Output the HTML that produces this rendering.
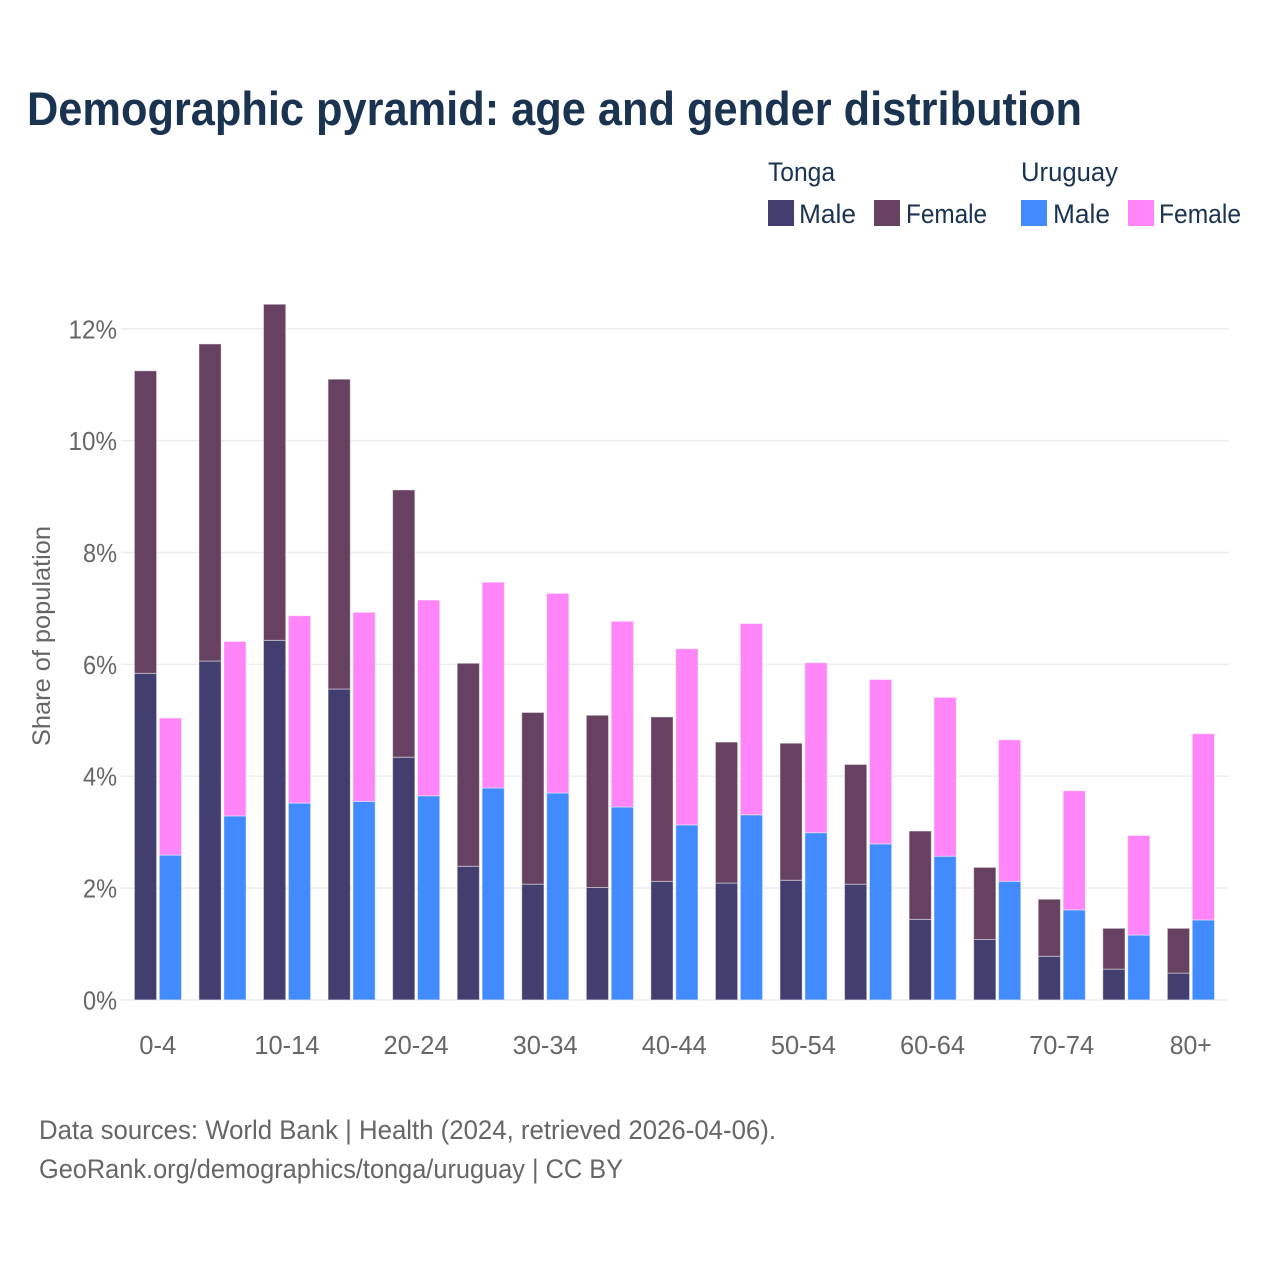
<!DOCTYPE html>
<html lang="en">
<head>
<meta charset="utf-8">
<title>Demographic pyramid: age and gender distribution</title>
<style>
html,body{margin:0;padding:0;background:#fff;width:1280px;height:1280px;overflow:hidden}
svg{display:block;font-family:"Liberation Sans",sans-serif}
</style>
</head>
<body>
<svg id="chart" xmlns="http://www.w3.org/2000/svg" width="1280" height="1280" viewBox="0 0 1280 1280">
  <rect width="1280" height="1280" fill="#fff"/>
  <text x="27" y="125" font-size="47" font-weight="700" fill="#1a3350" textLength="1055" lengthAdjust="spacingAndGlyphs">Demographic pyramid: age and gender distribution</text>

  <g font-size="27" fill="#1a3350">
    <text x="768" y="181" textLength="67" lengthAdjust="spacingAndGlyphs">Tonga</text>
    <text x="1021" y="181" textLength="97" lengthAdjust="spacingAndGlyphs">Uruguay</text>
    <rect x="768" y="200" width="26" height="26" fill="#423e6f"/>
    <text x="799" y="223" textLength="57" lengthAdjust="spacingAndGlyphs">Male</text>
    <rect x="874" y="200" width="26" height="26" fill="#664162"/>
    <text x="906" y="223" textLength="81" lengthAdjust="spacingAndGlyphs">Female</text>
    <rect x="1021" y="200" width="26" height="26" fill="#428bff"/>
    <text x="1053" y="223" textLength="57" lengthAdjust="spacingAndGlyphs">Male</text>
    <rect x="1128" y="200" width="26" height="26" fill="#ff85f8"/>
    <text x="1159" y="223" textLength="82" lengthAdjust="spacingAndGlyphs">Female</text>
  </g>

  <g id="grid"></g>
  <g id="bars"></g>
  <g id="yticks" font-size="26" fill="#666"></g>
  <g id="xticks" font-size="26" fill="#666"></g>

  <text transform="translate(50,636) rotate(-90)" text-anchor="middle" font-size="25" fill="#666" textLength="220" lengthAdjust="spacingAndGlyphs">Share of population</text>

  <text x="39" y="1139" font-size="27" fill="#666" textLength="737" lengthAdjust="spacingAndGlyphs">Data sources: World Bank | Health (2024, retrieved 2026-04-06).</text>
  <text x="39" y="1178" font-size="27" fill="#666" textLength="584" lengthAdjust="spacingAndGlyphs">GeoRank.org/demographics/tonga/uruguay | CC BY</text>
</svg>
<script>
const categories = ["0-4","5-9","10-14","15-19","20-24","25-29","30-34","35-39","40-44","45-49","50-54","55-59","60-64","65-69","70-74","75-79","80+"];
const shownCategories = ["0-4","10-14","20-24","30-34","40-44","50-54","60-64","70-74","80+"];
const tongaMale = [5.84,6.06,6.43,5.56,4.34,2.39,2.07,2.01,2.12,2.09,2.14,2.07,1.44,1.08,0.78,0.55,0.48];
const tongaFemale = [5.41,5.67,6.01,5.54,4.78,3.63,3.07,3.08,2.94,2.52,2.45,2.14,1.58,1.29,1.02,0.73,0.80];
const uruguayMale = [2.59,3.29,3.52,3.55,3.65,3.79,3.70,3.45,3.13,3.31,2.99,2.79,2.57,2.12,1.61,1.16,1.43];
const uruguayFemale = [2.45,3.12,3.35,3.38,3.50,3.68,3.57,3.32,3.15,3.42,3.04,2.94,2.84,2.53,2.13,1.78,3.33];
const yTickValues = [0,2,4,6,8,10,12];
const yTickLabels = ["0%","2%","4%","6%","8%","10%","12%"];

const NS = "http://www.w3.org/2000/svg";
function yScale(v){ return 999.9 - v * 55.92; }
function xScale(i){ return 157.8 + i * 64.56; }
const barWidth = 22.2;
function make(tag, attrs, parent){
  const el = document.createElementNS(NS, tag);
  for (const k in attrs) el.setAttribute(k, attrs[k]);
  parent.appendChild(el);
  return el;
}
const gridG = document.getElementById("grid");
const barsG = document.getElementById("bars");
const yG = document.getElementById("yticks");
const xG = document.getElementById("xticks");

yTickValues.forEach(function(v, i){
  const line = make("line", {x1:121, x2:1229, y1:yScale(v), y2:yScale(v), stroke:"#eeeef0", "stroke-width":1.6}, gridG);
  
  
  const label = yTickLabels[i];
  const t = make("text", {x:117, y:yScale(v)+9.5, "text-anchor":"end", textLength:label.length * 14.5 + 5, lengthAdjust:"spacingAndGlyphs"}, yG);
  t.textContent = label;
  
  
});

shownCategories.forEach(function(label){
  const i = categories.indexOf(label);
  const t = make("text", {x:xScale(i), y:1054, "text-anchor":"middle", textLength:label.length * 13 , lengthAdjust:"spacingAndGlyphs"}, xG);
  if (label === "0-4") t.setAttribute("textLength", 37);
  if (label === "80+") t.setAttribute("textLength", 42);
  t.textContent = label;
  
  
});

function drawBar(x, y0Val, val, color){
  const top = yScale(y0Val + val), bottom = yScale(y0Val);
  const r = make("rect", {x:x, y:top, width:barWidth, height:bottom - top, fill:color, stroke:"#ffffff", "stroke-opacity":0.45, "stroke-width":1}, barsG);
  return r;
}
categories.forEach(function(c, i){
  const cx = xScale(i);
  let r = drawBar(cx - 23.4, 0, tongaMale[i], "#423e6f");
  
  
  r = drawBar(cx - 23.4, tongaMale[i], tongaFemale[i], "#664162");
  
  
  r = drawBar(cx + 1.5, 0, uruguayMale[i], "#428bff");
  
  
  r = drawBar(cx + 1.5, uruguayMale[i], uruguayFemale[i], "#ff85f8");
  
  
});
</script>
</body>
</html>
